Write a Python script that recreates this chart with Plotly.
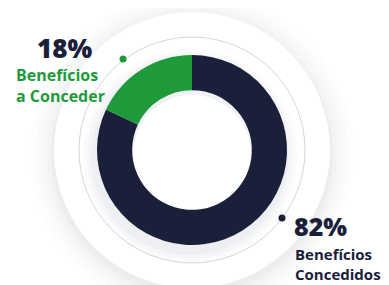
import plotly.graph_objects as go

categories = ["Benefícios Concedidos", "Benefícios a Conceder"]
values = [82, 18]
pct_labels = ["18%", "82%"]
line1 = ["Benefícios", "Benefícios"]
line2 = ["a Conceder", "Concedidos"]
navy = "#1a2039"
green = "#1f9a3b"
colors = [navy, green]

W, H = 389, 285
OFF = 8  # page body margin
FW, FH = W - OFF, H - OFF
cx, cy, r = 192, 150, 95

fig = go.Figure()

fig.add_trace(go.Pie(
    labels=categories, values=values, hole=0.63, sort=False,
    direction="clockwise", rotation=0,
    marker=dict(colors=colors, line=dict(width=0)),
    textinfo="none", hoverinfo="label+percent", showlegend=False,
    domain=dict(x=[(cx - r - OFF) / FW, (cx + r - OFF) / FW],
                y=[(H - (cy + r)) / FH, (H - (cy - r)) / FH]),
))

shapes = []
def circ(x, y, R, fill, line=None):
    return dict(type="circle", xref="x", yref="y", x0=x - R, x1=x + R, y0=y - R, y1=y + R,
                fillcolor=fill, line=line or dict(width=0), layer="below")

# soft halo around big white disc
for k, a in [(24, 0.010), (18, 0.013), (12, 0.017), (7, 0.022), (3, 0.028)]:
    shapes.append(circ(cx, cy + 4, 138 + k, f"rgba(40,50,80,{a})"))
shapes.append(circ(cx, cy, 138, "#ffffff"))
# donut shadow
for k, a in [(12, 0.018), (8, 0.025), (4, 0.035)]:
    shapes.append(circ(cx - 2, cy + 6, r + k, f"rgba(40,50,80,{a})"))
# thin ring
shapes.append(circ(cx, cy, 113, "rgba(0,0,0,0)", dict(width=1, color="#d3d6dc")))
# hole with faint inner shadow at top
shapes.append(circ(cx, cy, 62, "#f1f2f5"))
shapes.append(circ(cx, cy + 4, 59, "#ffffff"))

fig.add_trace(go.Scatter(x=[123, 282], y=[59, 218], mode="markers",
                         marker=dict(size=7, color=[green, navy]), hoverinfo="skip", showlegend=False))

fnt = "Open Sans"
ann = []
ann.append(dict(x=94, y=48, text=pct_labels[0], xanchor="right", yanchor="middle",
                font=dict(family=fnt, size=26, color=navy, weight=800)))
ann.append(dict(x=14, y=85, text=line1[0] + "<br>" + line2[0], xanchor="left", yanchor="middle",
                align="left", font=dict(family=fnt, size=16, color=green, weight=700)))
ann.append(dict(x=292, y=226, text=pct_labels[1], xanchor="left", yanchor="middle",
                font=dict(family=fnt, size=25, color=navy, weight=800)))
ann.append(dict(x=293, y=264, text=line1[1] + "<br>" + line2[1], xanchor="left", yanchor="middle",
                align="left", font=dict(family=fnt, size=15, color=navy, weight=700)))
for a in ann:
    a.update(xref="x", yref="y", showarrow=False)

fig.update_layout(
    width=FW, height=FH, margin=dict(l=0, r=0, t=0, b=0),
    paper_bgcolor="#ffffff", plot_bgcolor="rgba(0,0,0,0)",
    xaxis=dict(range=[OFF, W], visible=False, fixedrange=True),
    yaxis=dict(range=[H, OFF], visible=False, fixedrange=True),
    shapes=shapes, annotations=ann,
)
fig.write_html("out.html")
